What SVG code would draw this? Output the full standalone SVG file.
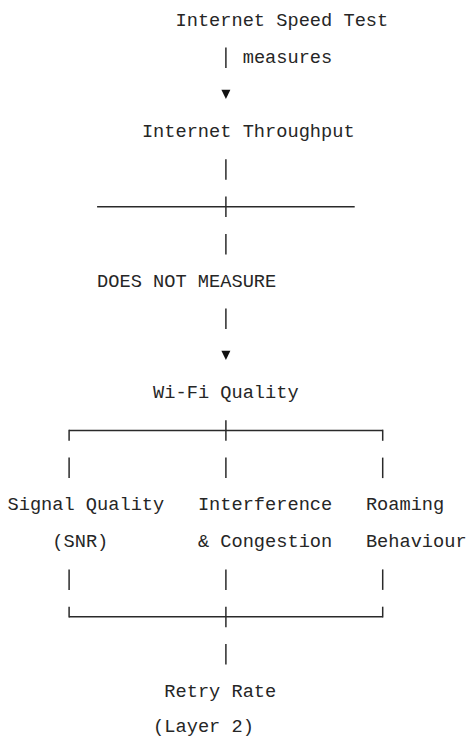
<svg xmlns="http://www.w3.org/2000/svg" width="467" height="737" viewBox="0 0 467 737">
<style>
text{font-family:"Liberation Mono","DejaVu Sans Mono",monospace;font-size:18.67px;fill:#262626}
.c line{stroke:#2a2a2a;stroke-width:1.5}
.c polygon{fill:#111}
</style>
<rect width="467" height="737" fill="#fff"/>
<g id="speedtest"><text x="175.5" y="25.5">Internet Speed Test</text></g>
<g id="throughput"><text x="141.9" y="137.3">Internet Throughput</text></g>
<g id="doesnot"><text x="97.1" y="286.5">DOES NOT MEASURE</text></g>
<g id="wifi"><text x="153.1" y="398.3">Wi-Fi Quality</text></g>
<g id="signal"><text x="7.5" y="510.1">Signal Quality</text><text x="52.3" y="547.4">(SNR)</text></g>
<g id="interference"><text x="197.9" y="510.1">Interference</text><text x="197.9" y="547.4">&amp; Congestion</text></g>
<g id="roaming"><text x="365.9" y="510.1">Roaming</text><text x="365.9" y="547.4">Behaviour</text></g>
<g id="retry"><text x="164.3" y="696.5">Retry Rate</text><text x="153.1" y="732">(Layer 2)</text></g>
<g class="c" id="connectors">
<line x1="225.9" y1="47.5" x2="225.9" y2="68"/>
<text x="242.7" y="62.8">measures</text>
<polygon points="221.4,89.8 230.4,89.8 225.9,99.1"/>
<line x1="225.9" y1="159.3" x2="225.9" y2="179.8"/>
<line x1="97.1" y1="206.7" x2="354.7" y2="206.7"/>
<line x1="225.9" y1="196.6" x2="225.9" y2="217.1"/>
<line x1="225.9" y1="233.9" x2="225.9" y2="254.4"/>
<line x1="225.9" y1="308.4" x2="225.9" y2="328.9"/>
<polygon points="221.4,350.7 230.4,350.7 225.9,360"/>
<line x1="69.1" y1="430.4" x2="382.7" y2="430.4"/>
<line x1="225.9" y1="420.3" x2="225.9" y2="440.8"/>
<line x1="69.1" y1="429.7" x2="69.1" y2="440.8"/>
<line x1="382.7" y1="429.7" x2="382.7" y2="440.8"/>
<line x1="69.1" y1="457.6" x2="69.1" y2="478.1"/>
<line x1="225.9" y1="457.6" x2="225.9" y2="478.1"/>
<line x1="382.7" y1="457.6" x2="382.7" y2="478.1"/>
<line x1="69.1" y1="569.4" x2="69.1" y2="589.9"/>
<line x1="225.9" y1="569.4" x2="225.9" y2="589.9"/>
<line x1="382.7" y1="569.4" x2="382.7" y2="589.9"/>
<line x1="69.1" y1="606.7" x2="69.1" y2="617.5"/>
<line x1="382.7" y1="606.7" x2="382.7" y2="617.5"/>
<line x1="69.1" y1="616.8" x2="382.7" y2="616.8"/>
<line x1="225.9" y1="606.7" x2="225.9" y2="627.2"/>
<line x1="225.9" y1="644" x2="225.9" y2="664.5"/>
</g>
</svg>
